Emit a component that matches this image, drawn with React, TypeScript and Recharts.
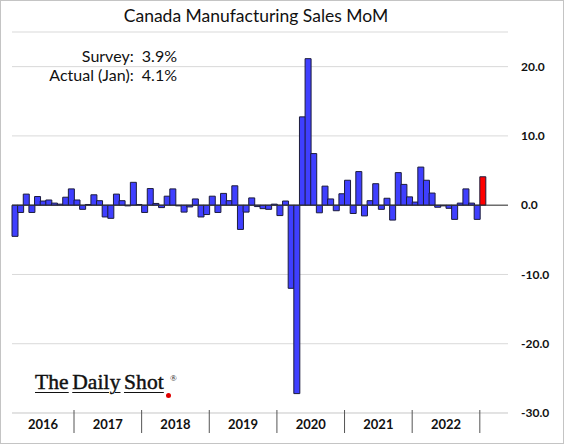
import React from 'react';
import { BarChart, Bar, Cell, XAxis, YAxis, CartesianGrid, ReferenceLine } from 'recharts';

const MONTHS = ['Jan', 'Feb', 'Mar', 'Apr', 'May', 'Jun', 'Jul', 'Aug', 'Sep', 'Oct', 'Nov', 'Dec'];
const YEARS = ['2016', '2017', '2018', '2019', '2020', '2021', '2022'];

// MoM % change, Feb 2016 .. Jan 2023
const values = [
  -4.5, -1.05, 1.6, -1.05, 1.25, 0.6, 0.75, 0.3, 0.15, 1.15, 2.35,
  0.75, -0.6, 0.1, 1.5, 0.65, -1.7, -1.9, 1.6, 0.65, -0.1, 3.3, 0.1,
  -1.05, 2.4, 0.25, -0.35, 1.3, 2.35, -0.1, -1.0, -0.25, 0.9, -1.7, -1.35,
  1.3, -1.05, 1.7, 0.65, 2.8, -3.5, -1.0, 1.05, -0.2, -0.5, -0.6, 0.15,
  -1.5, 0.6, -12.0, -27.2, 12.75, 21.15, 7.45, -1.1, 2.75, 0.9, -0.8, 1.65,
  3.6, -1.2, 4.85, -1.55, 0.65, 3.1, -0.6, 1.0, -2.15, 4.7, 3.0, 1.2,
  0.45, 5.5, 3.6, 1.75, -0.3, -0.1, -0.45, -2.05, 0.3, 2.35, 0.3, -2.05,
  4.1,
];

const yTicks = [-30, -20, -10, 0, 10, 20];

// axis runs Feb 2016 .. May 2023 (empty slots after the last print)
const categories: string[] = [];
for (let i = 0; i < 88; i++) {
  const m = (1 + i) % 12;
  const y = 2016 + Math.floor((1 + i) / 12);
  categories.push(`${MONTHS[m]} ${y}`);
}

const data = categories.map((month, i) => ({
  month,
  pos: i + 0.5,
  value: i < values.length ? values[i] : null,
}));

const separators = categories
  .map((c, i) => (c.startsWith('Jan') && i <= values.length ? i : -1))
  .filter((i) => i > 0);
const yearStarts = [0, ...separators];
const labelPos = YEARS.map((_, k) => (yearStarts[k] + yearStarts[k + 1]) / 2);
const yearTicks = [...separators, ...labelPos].sort((a, b) => a - b);

const FONT = 'Lato, "Open Sans", sans-serif';

const YearTick = (props: any) => {
  const { x, y, payload } = props;
  const v = payload.value;
  if (separators.includes(v)) {
    return <line x1={x} x2={x} y1={y - 3} y2={y + 20} stroke="#555" strokeWidth={1} />;
  }
  const k = labelPos.indexOf(v);
  return (
    <text x={x} y={y + 16} textAnchor="middle" fontSize={13} fontWeight={700} fill="#111" fontFamily={FONT}>
      {YEARS[k]}
    </text>
  );
};

const underline: React.CSSProperties = {
  textDecoration: 'underline',
  textUnderlineOffset: 3,
  textDecorationThickness: 1,
};

export default function App() {
  const last = values.length - 1;
  return (
    <div
      style={{
        position: 'relative',
        width: 564,
        height: 444,
        boxSizing: 'border-box',
        border: '1px solid #c4c4c4',
        background: '#fff',
        fontFamily: FONT,
        overflow: 'hidden',
      }}
    >
      <style>{'body{margin:0}'}</style>
      <div style={{ position: 'absolute', left: -1, top: -1 }}>
        <BarChart
          width={564}
          height={444}
          data={data}
          margin={{ top: 32, right: 8, bottom: 7, left: 12 }}
          barCategoryGap={0}
        >
          <CartesianGrid vertical={false} stroke="#d9d9d9" />
          <XAxis dataKey="month" hide height={0} />
          <XAxis
            xAxisId="yr"
            dataKey="pos"
            type="number"
            domain={[0, 88]}
            ticks={yearTicks}
            interval={0}
            height={24}
            tickSize={0}
            tickMargin={0}
            tickLine={false}
            axisLine={{ stroke: '#d9d9d9' }}
            tick={<YearTick />}
          />
          <YAxis
            orientation="right"
            domain={[-30, 25]}
            ticks={yTicks}
            allowDataOverflow
            width={48}
            axisLine={false}
            tickLine={false}
            tickMargin={7}
            tickFormatter={(v: number) => v.toFixed(1)}
            tick={{ fontSize: 12, fontWeight: 700, fill: '#111', fontFamily: FONT, textAnchor: 'start' }}
          />
          <ReferenceLine y={0} stroke="#333" strokeWidth={1} />
          <Bar dataKey="value" stroke="#1c1c3c" strokeWidth={1} isAnimationActive={false}>
            {data.map((_, i) => (
              <Cell key={i} fill={i === last ? '#ff0000' : '#3f3fff'} />
            ))}
          </Bar>
        </BarChart>
      </div>
      <div
        style={{
          position: 'absolute',
          left: 0,
          top: 5,
          width: 510,
          textAlign: 'center',
          fontSize: 17.5,
          lineHeight: '20px',
          color: '#111',
        }}
      >
        Canada Manufacturing Sales MoM
      </div>
      <div
        style={{
          position: 'absolute',
          left: 0,
          width: 176,
          top: 45,
          textAlign: 'right',
          fontSize: 16,
          lineHeight: '19px',
          whiteSpace: 'pre',
          color: '#111',
        }}
      >
        {'Survey:  3.9%'}
        <br />
        {'Actual (Jan):  4.1%'}
      </div>
      <div
        style={{
          position: 'absolute',
          left: 34,
          top: 370,
          fontFamily: '"Liberation Serif", "DejaVu Serif", serif',
          fontSize: 21.5,
          lineHeight: '22px',
          letterSpacing: 0.1,
          wordSpacing: -2,
          WebkitTextStroke: '0.45px #111',
          color: '#111',
          whiteSpace: 'pre',
        }}
      >
        <span style={underline}>The</span> <span style={underline}>Daily</span>{' '}
        <span style={underline}>Shot</span>
      </div>
      <div
        style={{
          position: 'absolute',
          left: 169,
          top: 372,
          fontFamily: '"Liberation Serif", serif',
          fontSize: 9,
          color: '#111',
        }}
      >
        ®
      </div>
      <div
        style={{
          position: 'absolute',
          left: 165,
          top: 392,
          width: 5,
          height: 5,
          borderRadius: '50%',
          background: '#e00000',
        }}
      />
    </div>
  );
}
